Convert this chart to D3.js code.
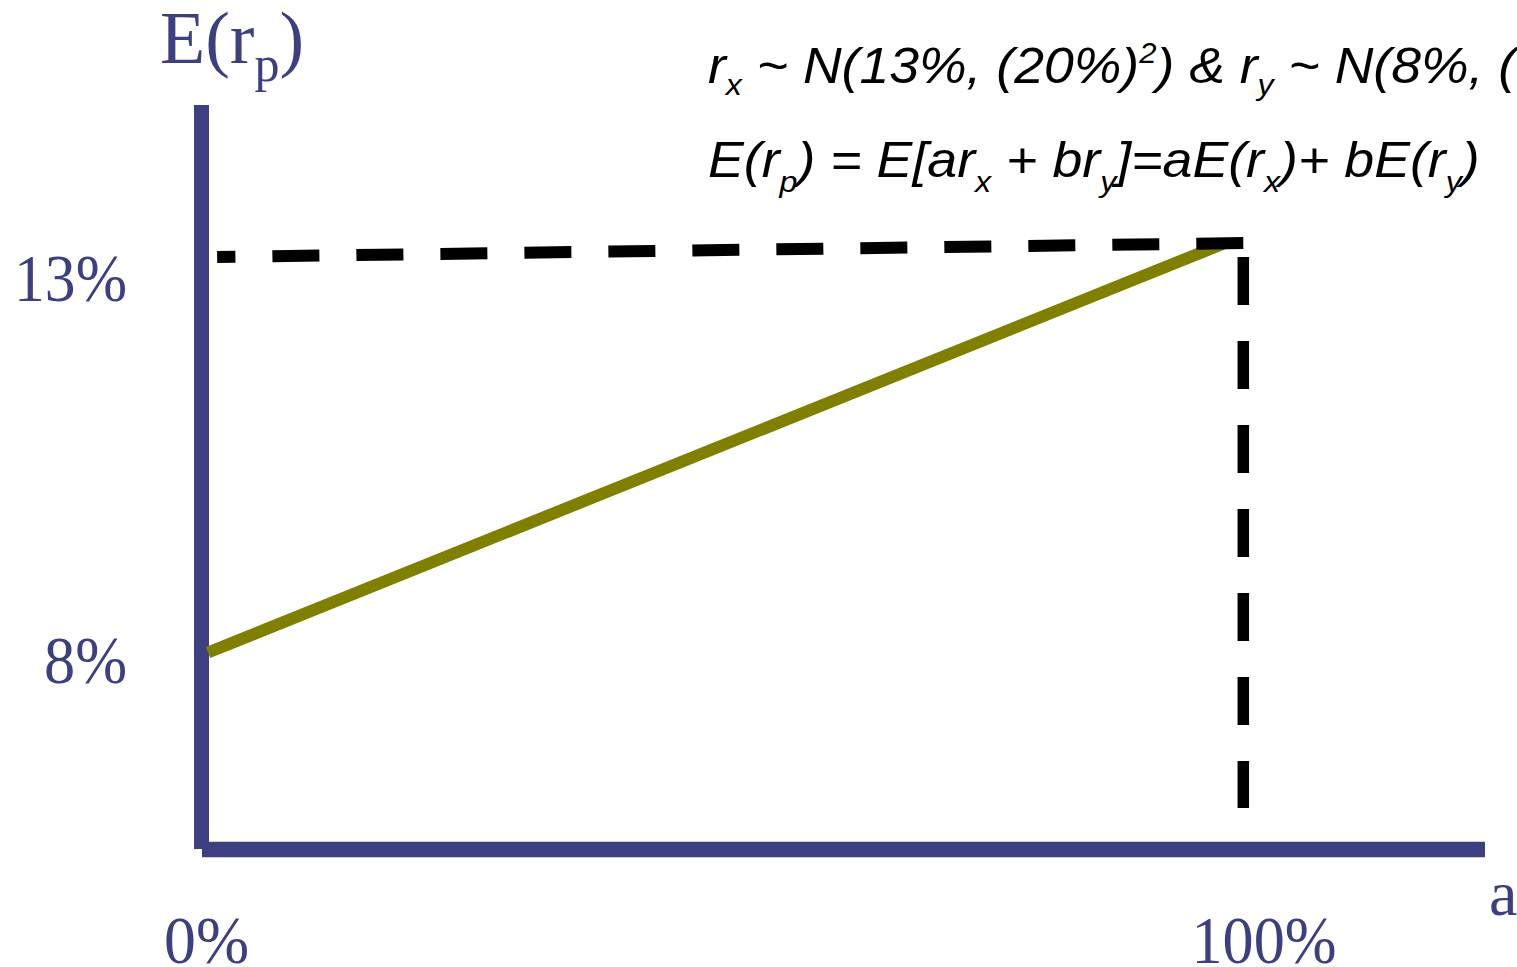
<!DOCTYPE html>
<html>
<head>
<meta charset="utf-8">
<script src="https://cdn.jsdelivr.net/npm/d3@7"></script>
<style>
  html, body { margin: 0; padding: 0; background: #ffffff; }
  svg { display: block; }
  text { white-space: pre; }
</style>
</head>
<body>
<svg id="chart" width="1517" height="967"></svg>
<script>
// ---- data ----
const weightA = [0, 1];                 // a = weight on asset x
const expectedReturn = [0.08, 0.13];    // E(r_p) at a = 0% and a = 100%
const yTickValues = [0.08, 0.13];
const yTickLabels = ["8%", "13%"];
const xTickValues = [0, 1];
const xTickLabels = ["0%", "100%"];
const guideHorizontal = [[1.018, 0.13], [0.009, 0.1283]];   // dashed guide to E(r_x)
const guideVertical = [[1.018, 0.1283], [1.018, 0.061]];    // dashed guide down to a = 100%

// ---- layout ----
const NAVY = "#3c3f80", OLIVE = "#808000";
const svg = d3.select("#chart");
svg.append("rect").attr("width", 1517).attr("height", 967).attr("fill", "#fff");

const x = d3.scaleLinear().domain([0, 1]).range([208, 1225]);
const y = d3.scaleLinear().domain([0.08, 0.13]).range([652.5, 243]);

const line = d3.line().x(d => x(d[0])).y(d => y(d[1]));

// axes frame
svg.append("line").attr("x1", 201.5).attr("x2", 201.5).attr("y1", 105).attr("y2", 849)
  .attr("stroke", NAVY).attr("stroke-width", 15);
svg.append("line").attr("x1", 202).attr("x2", 1485).attr("y1", 849.5).attr("y2", 849.5)
  .attr("stroke", NAVY).attr("stroke-width", 15.5);

// portfolio expected return line
svg.append("path")
  .datum(weightA.map((a, i) => [a, expectedReturn[i]]))
  .attr("d", line)
  .attr("fill", "none").attr("stroke", OLIVE).attr("stroke-width", 12).attr("stroke-linecap", "butt");

// dashed guides
svg.append("path").datum(guideHorizontal).attr("d", line)
  .attr("fill", "none").attr("stroke", "#000").attr("stroke-width", 12)
  .attr("stroke-dasharray", "47,37");
svg.append("path").datum(guideVertical).attr("d", line)
  .attr("fill", "none").attr("stroke", "#000").attr("stroke-width", 11.5)
  .attr("stroke-dasharray", "48,36");

// tick labels
const serif = "'Liberation Serif', 'Times New Roman', serif";
const yLabelNudge = [30.5, 58];
const yLabelLen = [83, 113];
svg.selectAll("text.ytick").data(yTickValues).enter().append("text")
  .attr("class", "ytick")
  .attr("x", 127)
  .attr("y", (d, i) => y(d) + yLabelNudge[i])
  .attr("text-anchor", "end")
  .attr("font-family", serif).attr("font-size", 67).attr("fill", NAVY)
  .attr("textLength", (d, i) => yLabelLen[i]).attr("lengthAdjust", "spacingAndGlyphs")
  .text((d, i) => yTickLabels[i]);

const xLabelNudge = [-1.5, 39];
const xLabelLen = [85, 145];
svg.selectAll("text.xtick").data(xTickValues).enter().append("text")
  .attr("class", "xtick")
  .attr("x", (d, i) => x(d) + xLabelNudge[i])
  .attr("y", 963)
  .attr("text-anchor", "middle")
  .attr("font-family", serif).attr("font-size", 67).attr("fill", NAVY)
  .attr("textLength", (d, i) => xLabelLen[i]).attr("lengthAdjust", "spacingAndGlyphs")
  .text((d, i) => xTickLabels[i]);

// axis titles
svg.append("text").attr("x", 1489).attr("y", 915)
  .attr("font-family", serif).attr("font-size", 64).attr("fill", NAVY).text("a");

const title = svg.append("text").attr("x", 160).attr("y", 63)
  .attr("font-family", serif).attr("font-size", 74).attr("fill", NAVY);
title.append("tspan").text("E(r");
title.append("tspan").attr("font-size", 50).attr("dy", 18).text("p");
title.append("tspan").attr("dy", -18).text(")");

// formula text
const sans = "'Liberation Sans', Arial, sans-serif";
function formula(x0, y0, parts, targetRight) {
  const t = svg.append("text").attr("x", x0).attr("y", y0)
    .attr("font-family", sans).attr("font-style", "italic")
    .attr("font-size", 50).attr("fill", "#000");
  let shift = 0;
  parts.forEach(p => {
    const ts = t.append("tspan").text(p.t);
    const s = p.s || 0;
    if (s !== shift) { ts.attr("dy", s - shift); shift = s; }
    if (p.fs) ts.attr("font-size", p.fs);
  });
  const w = t.node().getBBox().width;
  const k = (targetRight - x0) / w;
  t.attr("transform", `translate(${x0},0) scale(${k},1) translate(${-x0},0)`);
  return t;
}

formula(708, 83.5, [
  {t: "r"}, {t: "x", s: 12, fs: 30}, {t: " ~ N(13%, (20%)"},
  {t: "2", s: -20, fs: 29}, {t: ") & r"}, {t: "y", s: 12, fs: 30},
  {t: " ~ N(8%, ("}
], 1521);

formula(708, 177, [
  {t: "E(r"}, {t: "p", s: 15, fs: 30}, {t: ") = E[ar"}, {t: "x", s: 15, fs: 30},
  {t: " + br"}, {t: "y", s: 15, fs: 30}, {t: "]=aE(r"}, {t: "x", s: 15, fs: 30},
  {t: ")+ bE(r"}, {t: "y", s: 15, fs: 30}, {t: ")"}
], 1480);
</script>
</body>
</html>
